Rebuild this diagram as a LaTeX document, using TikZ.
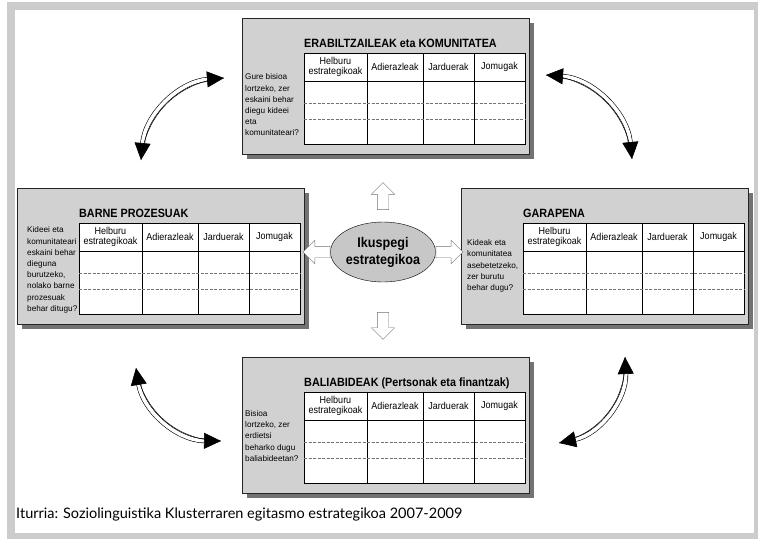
\documentclass[tikz,border=0pt]{standalone}
\usepackage{fontspec}
\setmainfont{Liberation Sans}
\newfontfamily\narrowsf[FakeStretch=0.9]{Liberation Sans}
\newfontfamily\captionsf{Lato}
\usetikzlibrary{positioning,shapes.geometric,shapes.arrows,shadows,arrows.meta}

\begin{document}
\begin{tikzpicture}[
            x=1pt, y=-1pt,
            panel/.style={draw=black!85, fill=black!18, line width=0.8pt, anchor=north west,
                minimum width=287pt, minimum height=136pt, inner sep=0pt,
                general shadow={fill=black!55, shadow xshift=5pt, shadow yshift=-5pt}},
            grid box/.style={draw=black, fill=white, line width=1pt},
            grid line/.style={draw=black, line width=0.8pt},
            row line/.style={draw=black!55, line width=0.5pt, dash pattern=on 3pt off 1.5pt},
            headcell/.style={font=\narrowsf\fontsize{10}{10}\selectfont, align=center, inner sep=0pt},
            paneltitle/.style={font=\narrowsf\bfseries\fontsize{12}{12}\selectfont, anchor=base west, inner sep=0pt},
            question/.style={font=\fontsize{8.2}{11.2}\selectfont, align=left, anchor=west, inner sep=0pt},
            hollow/.style={single arrow, draw=black!55, fill=white, minimum height=27pt,
                inner xsep=0pt, inner ysep=5.5pt, single arrow head extend=6pt},
            loop arrow/.style={line width=0.6pt, double=white, double distance=3.6pt,
                {Triangle[length=17pt,width=16pt]}-{Triangle[length=17pt,width=16pt]}}
            ]
        \useasboundingbox (0,0) rectangle (758,539);
        \fill[black!20] (7,2) rectangle (758,539);
        \fill[white] (15,10) rectangle (754,533);

        \foreach \nm/\bx/\by/\ttl in {user/242/18/{ERABILTZAILEAK eta KOMUNITATEA},
                proc/17/188/{BARNE PROZESUAK}, dev/461/188/{GARAPENA},
                res/242/357/{BALIABIDEAK (Pertsonak eta finantzak)}} {
            \node[panel] (\nm) at (\bx,\by) {};
            \node[paneltitle] (\nm-title) at (\bx+62,\by+29) {\ttl};
            \draw[grid box] (\bx+62,\by+35) rectangle (\bx+283,\by+126);
            \draw[grid line] (\bx+62,\by+63) -- (\bx+283,\by+63);
            \foreach \c in {63,119,170}
                \draw[grid line] (\bx+62+\c,\by+35) -- (\bx+62+\c,\by+126);
            \draw[row line] (\bx+62,\by+85) -- (\bx+283,\by+85);
            \draw[row line] (\bx+62,\by+101) -- (\bx+283,\by+101);
            \node[headcell] (\nm-h1) at (\bx+93.5,\by+49) {Helburu\\estrategikoak};
            \node[headcell] (\nm-h2) at (\bx+153,\by+49) {Adierazleak};
            \node[headcell] (\nm-h3) at (\bx+206.5,\by+49) {Jarduerak};
            \node[headcell] (\nm-h4) at (\bx+257.5,\by+49) {Jomugak};
        }

        \node[question] (user-q) at (245,105) {Gure bisioa\\lortzeko, zer\\eskaini behar\\diegu kideei\\eta\\komunitateari?};
        \node[question] (proc-q) at (27,270) {Kideei eta\\komunitateari\\eskaini behar\\dieguna\\burutzeko,\\nolako barne\\prozesuak\\behar ditugu?};
        \node[question] (dev-q) at (467,266) {Kideak eta\\komunitatea\\asebetetzeko,\\zer burutu\\behar dugu?};
        \node[question] (res-q) at (245,436) {Bisioa\\lortzeko, zer\\erdietsi\\beharko dugu\\baliabideetan?};

        \node[ellipse, draw, fill=black!22, minimum width=100pt, minimum height=60pt, inner sep=0pt,
            align=center, font=\narrowsf\bfseries\fontsize{14}{17}\selectfont] (vision) at (383,252) {Ikuspegi\\estrategikoa};
        \node[hollow, rotate=90, above=12pt of vision, anchor=west] (to-user) {};
        \node[hollow, rotate=-90, below=30pt of vision, anchor=west] (to-res) {};
        \node[hollow, rotate=180, left=0pt of vision, anchor=west] (to-proc) {};
        \node[hollow, right=0pt of vision] (to-dev) {};

        \coordinate (ul-a) at (141,160);
        \coordinate (ul-b) at (224,78);
        \coordinate (ur-a) at (546,75);
        \coordinate (ur-b) at (632,159);
        \coordinate (ll-a) at (136,368);
        \coordinate (ll-b) at (221,441);
        \coordinate (lr-a) at (625,357);
        \coordinate (lr-b) at (559,443);
        \foreach \a/\b/\ang in {ul-a/ul-b/40, ur-a/ur-b/40, ll-a/ll-b/-40, lr-a/lr-b/40} {
            \draw[loop arrow] (\a) to[bend left=\ang] (\b);
            \draw[line width=0.5pt] (\a) to[bend left=\ang] (\b);
        }

        \node[font=\captionsf\fontsize{14.5}{16}\selectfont, anchor=base west, inner sep=0pt] (source)
            at (16,518) {Iturria: Soziolinguistika Klusterraren egitasmo estrategikoa 2007-2009};
        \end{tikzpicture}
\end{document}
